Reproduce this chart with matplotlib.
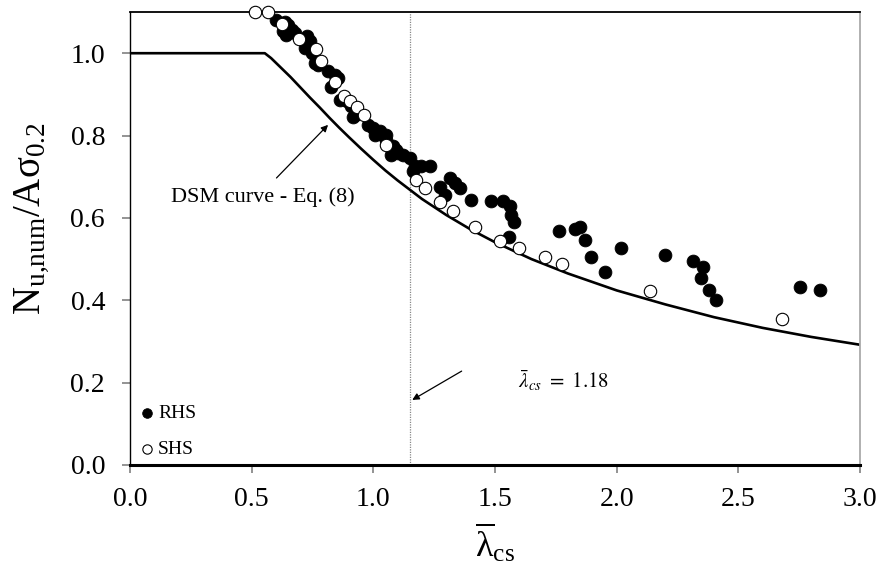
import matplotlib
matplotlib.use("Agg")
import matplotlib.pyplot as plt

plt.rcParams['font.family'] = ['Liberation Serif', 'DejaVu Serif']
plt.rcParams['mathtext.fontset'] = 'custom'
plt.rcParams['mathtext.rm'] = 'Liberation Serif'
plt.rcParams['mathtext.it'] = 'Liberation Serif:italic'

# RHS (filled) - slenderness vs normalised resistance
rhs_lam = [0.602, 0.637, 0.650, 0.664, 0.630, 0.643, 0.678, 0.726, 0.739, 0.719,
           0.746, 0.760, 0.773, 0.814, 0.842, 0.855, 0.890, 0.910, 0.924, 0.979,
           0.999, 1.027, 1.040, 1.006, 1.054, 1.068, 1.081, 1.073, 1.095, 1.100,
           1.122, 1.150, 1.170, 1.198, 1.232, 1.163, 1.273, 1.314, 1.335, 1.355,
           1.294, 1.403, 1.485, 1.533, 1.561, 1.567, 1.577, 1.558, 1.763, 1.828,
           1.848, 1.869, 1.896, 1.951, 2.016, 2.197, 2.313, 2.357, 2.346, 2.378,
           2.407, 2.754, 2.834, 0.828, 0.862, 0.917, 1.054]
rhs_n = [1.081, 1.077, 1.069, 1.057, 1.053, 1.045, 1.049, 1.041, 1.029, 1.013,
         1.000, 0.976, 0.972, 0.956, 0.948, 0.940, 0.883, 0.871, 0.851, 0.826,
         0.818, 0.810, 0.802, 0.802, 0.802, 0.774, 0.774, 0.753, 0.766, 0.757,
         0.753, 0.745, 0.725, 0.725, 0.725, 0.713, 0.676, 0.697, 0.685, 0.672,
         0.656, 0.644, 0.642, 0.642, 0.629, 0.608, 0.591, 0.553, 0.569, 0.573,
         0.578, 0.547, 0.506, 0.469, 0.528, 0.509, 0.496, 0.480, 0.455, 0.425,
         0.400, 0.433, 0.425, 0.919, 0.887, 0.846, 0.790]

# SHS (open)
shs_lam = [0.513, 0.567, 0.623, 0.695, 0.764, 0.784, 0.842, 0.879, 0.903, 0.934,
           0.962, 1.054, 1.177, 1.211, 1.273, 1.328, 1.417, 1.520, 1.598, 1.704,
           1.777, 2.136, 2.678]
shs_n = [1.10, 1.10, 1.071, 1.035, 1.010, 0.982, 0.931, 0.897, 0.883, 0.869,
         0.849, 0.776, 0.693, 0.672, 0.638, 0.616, 0.578, 0.543, 0.527, 0.506,
         0.487, 0.422, 0.354]

# DSM curve
dsm_lam = [0.0, 0.554, 0.58, 0.62, 0.66, 0.70, 0.74, 0.78, 0.82, 0.86, 0.90,
           0.95, 1.00, 1.05, 1.10, 1.20, 1.30, 1.40, 1.50, 1.65, 1.80, 2.00,
           2.20, 2.40, 2.60, 2.80, 3.00]
dsm_n = [1.0, 1.0, 0.988, 0.965, 0.942, 0.917, 0.892, 0.868, 0.843, 0.819, 0.796,
         0.768, 0.741, 0.715, 0.691, 0.646, 0.607, 0.572, 0.541, 0.500, 0.465,
         0.424, 0.390, 0.359, 0.333, 0.311, 0.292]

lam_lim = 1.15
x_ticks = [0.0, 0.5, 1.0, 1.5, 2.0, 2.5, 3.0]
y_ticks = [0.0, 0.2, 0.4, 0.6, 0.8, 1.0]

fig = plt.figure(figsize=(8.82, 5.73), dpi=100)
ax = fig.add_axes([0.1474, 0.1885, 0.8276, 0.7905])

ax.plot(dsm_lam, dsm_n, color='black', lw=1.9, zorder=2)
ax.axvline(lam_lim, color='#888888', lw=0.9, ls=(0, (1, 1)), zorder=1)

ax.scatter(rhs_lam, rhs_n, s=85, c='black', edgecolors='black', linewidths=0.6,
           zorder=3, clip_on=False, label='RHS')
ax.scatter(shs_lam, shs_n, s=80, c='white', edgecolors='black', linewidths=0.8,
           zorder=4, clip_on=False, label='SHS')

ax.set_xlim(0, 3.0)
ax.set_ylim(0, 1.1)
ax.set_xticks(x_ticks)
ax.set_yticks(y_ticks)
ax.set_xticklabels(['%.1f' % t for t in x_ticks])
ax.set_yticklabels(['%.1f' % t for t in y_ticks])
ax.tick_params(direction='out', length=6, width=1.2, color='#808080',
               labelsize=20)
ax.tick_params(axis='x', pad=10)
ax.tick_params(axis='y', pad=12)

ax.spines['bottom'].set_linewidth(2.2)
ax.spines['left'].set_linewidth(1.0)
ax.spines['top'].set_linewidth(1.3)
ax.spines['right'].set_color('#aaaaaa')
ax.spines['right'].set_linewidth(1.3)

ax.set_xlabel(r'$\overline{\mathrm{λ}}_{\mathrm{cs}}$', fontsize=26, labelpad=7)
ax.set_ylabel(r'$\mathrm{N_{u{,}num}/A\sigma_{0.2}}$', fontsize=28)
ax.yaxis.set_label_coords(-0.108, 0.545)

ax.text(0.546, 0.651, 'DSM curve - Eq. (8)', fontsize=16, ha='center', va='center')
ax.annotate('', xy=(0.814, 0.826), xytext=(0.602, 0.697),
            arrowprops=dict(arrowstyle='-|>', color='black', lw=0.9,
                            shrinkA=0, shrinkB=0, mutation_scale=10))
ax.annotate('', xy=(lam_lim + 0.01, 0.158), xytext=(1.363, 0.228),
            arrowprops=dict(arrowstyle='-|>', color='black', lw=0.9,
                            shrinkA=0, shrinkB=0, mutation_scale=10))
ax.text(1.78, 0.205, r'$\bar{\lambda}_{cs}\ =\ 1.18$', fontsize=15, ha='center',
        va='center', math_fontfamily='stix')

ax.legend(loc='lower left', bbox_to_anchor=(-0.012, -0.014), frameon=False,
          fontsize=14, markerscale=0.75, handletextpad=0.0, handlelength=1.2,
          labelspacing=0.95, borderaxespad=0.3)

fig.savefig('out.png', dpi=100)
